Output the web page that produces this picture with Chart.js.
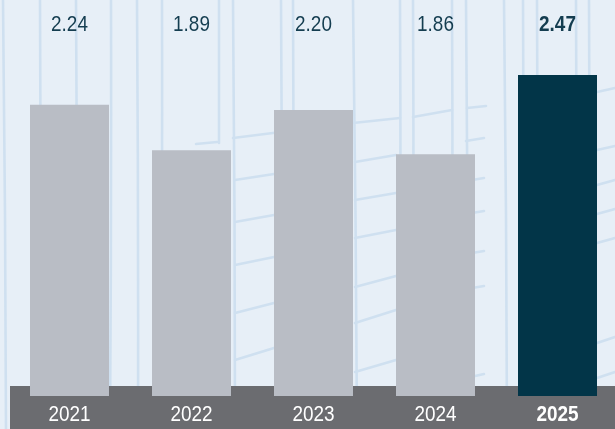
<!DOCTYPE html>
<html>
<head>
<meta charset="utf-8">
<script src="https://cdn.jsdelivr.net/npm/chart.js@4.4.1/dist/chart.umd.min.js"></script>
<style>
  html, body { margin: 0; padding: 0; overflow: hidden; background: #e7eff7; }
  #wrap { width: 620px; height: 429px; position: relative; }
</style>
</head>
<body>
<div id="wrap"><canvas id="c" width="620" height="429"></canvas></div>
<script>
const categories = ['2021', '2022', '2023', '2024', '2025'];
const values = [2.24, 1.89, 2.20, 1.86, 2.47];
const valueLabels = ['2.24', '1.89', '2.20', '1.86', '2.47'];
const highlightIndex = 4;

const FONT = "'Liberation Sans', Arial, sans-serif";
const NARROW = 0.86; // horizontal condensing of the label face
const BG = '#e7eff7';
const SKETCH = '#cfe0f0';
const BAND = '#6b6c70';
const BAR = '#b9bdc5';
const BAR_HI = '#023548';
const LABEL = '#143d50';

// decorative background sketch (vertical strokes and net segments)
const vStrokes = [
  [3,6],[40,40],[76,77],[111,110],[137,138],[162,161],[233,235],[281,282],[293,293],
  [353,357],[400,400],[413,413],[452,452],[466,468],[504,507],[523,523],[537,537],[576,576],[589,589]
];
const shortV = [[219,219,0,143]];
const hStrokes = [
  [196,144,217,142],
  [233,138,281,132],[235,180,274,174],[235,222,274,215],[235,265,274,257],[235,313,274,303],[235,360,274,348],
  [353,123,400,118],[355,162,396,155],[355,200,396,193],[355,238,396,230],[355,287,396,276],[355,323,396,310],[355,372,396,360],
  [413,117,452,110],[467,108,486,106],
  [466,141,484,138],[466,181,484,178],[466,214,484,211],[466,254,484,251],[466,289,484,286],[466,378,484,374],
  [597,92,615,88],[597,150,615,146],[597,185,615,180],[597,214,615,209],[597,243,615,238],[597,343,615,337],[597,378,615,372]
];

function narrowText(ctx, text, x, y) {
  ctx.save();
  ctx.translate(x, y);
  ctx.scale(NARROW, 1);
  ctx.fillText(text, 0, 0);
  ctx.restore();
}

const bgPlugin = {
  id: 'bgSketch',
  beforeDraw(chart) {
    const ctx = chart.ctx;
    const area = chart.chartArea;
    ctx.save();
    ctx.fillStyle = BG;
    ctx.fillRect(0, 0, chart.width, chart.height);
    ctx.strokeStyle = SKETCH;
    ctx.lineWidth = 2.6;
    ctx.lineCap = 'round';
    vStrokes.forEach(([xt, xb]) => {
      ctx.beginPath();
      ctx.moveTo(xt, 0);
      ctx.quadraticCurveTo((xt + xb) / 2 + 1, 215, xb, 429);
      ctx.stroke();
    });
    shortV.forEach(([x1, x2, y1, y2]) => {
      ctx.beginPath(); ctx.moveTo(x1, y1); ctx.lineTo(x2, y2); ctx.stroke();
    });
    hStrokes.forEach(([x1, y1, x2, y2]) => {
      ctx.beginPath();
      ctx.moveTo(x1, y1);
      ctx.lineTo(x2, y2);
      ctx.stroke();
    });
    // bottom band
    ctx.fillStyle = BAND;
    ctx.fillRect(area.left + 1.5, area.bottom - 10, chart.width, chart.height - area.bottom + 10);
    ctx.restore();
  }
};

const labelPlugin = {
  id: 'labels',
  afterDatasetsDraw(chart) {
    const ctx = chart.ctx;
    const meta = chart.getDatasetMeta(0);
    const xs = chart.scales.x;
    ctx.save();
    ctx.textAlign = 'center';
    ctx.textBaseline = 'middle';
    // value labels along the top
    ctx.fillStyle = LABEL;
    meta.data.forEach((bar, i) => {
      ctx.font = (i === highlightIndex ? 'bold ' : '') + '22px ' + FONT;
      narrowText(ctx, valueLabels[i], bar.x, 25);
    });
    // category labels inside the bottom band
    ctx.fillStyle = '#ffffff';
    xs.ticks.forEach((t, i) => {
      ctx.font = (i === highlightIndex ? 'bold ' : '') + '22px ' + FONT;
      narrowText(ctx, xs.getLabelForValue(t.value), xs.getPixelForTick(i), 415);
    });
    ctx.restore();
  }
};

new Chart(document.getElementById('c'), {
  type: 'bar',
  data: {
    labels: categories,
    datasets: [{
      data: values,
      backgroundColor: values.map((v, i) => i === highlightIndex ? BAR_HI : BAR),
      borderWidth: 0,
      barPercentage: 0.6475,
      categoryPercentage: 1
    }]
  },
  options: {
    responsive: false,
    animation: false,
    events: [],
    layout: { padding: { left: 8.5, right: 1.5, top: 58, bottom: 33 } },
    plugins: { legend: { display: false }, tooltip: { enabled: false } },
    scales: {
      x: {
        grid: { display: false, drawTicks: false },
        border: { display: false },
        ticks: { display: false }
      },
      y: {
        display: false,
        min: 0,
        max: 2.6
      }
    }
  },
  plugins: [bgPlugin, labelPlugin]
});
</script>
</body>
</html>
